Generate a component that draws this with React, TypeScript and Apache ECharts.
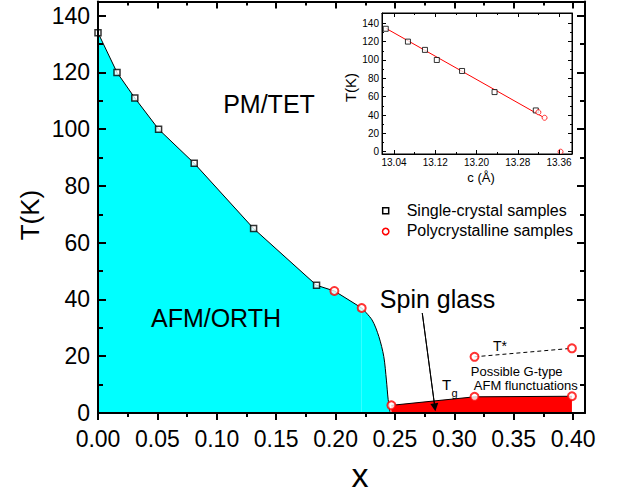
import React, { useEffect, useRef } from 'react';
import * as echarts from 'echarts';

const FONT = '"Liberation Sans", Arial, Helvetica, sans-serif';

// ---- main panel data ----
const singleX = [0, 0.016, 0.031, 0.051, 0.081, 0.131, 0.184];
const singleT = [134, 120, 111, 100, 88, 65, 45];
const polyX = [0.199, 0.222];
const polyT = [43, 37];
const edgeX = [0.222, 0.2307, 0.2364, 0.2406, 0.2428, 0.2443, 0.246];
const edgeT = [37, 32.8, 27, 19.9, 11.6, 4.7, 0];
const tgX = [0.247, 0.317, 0.399];
const tgT = [2.7, 5.7, 5.9];
const tsX = [0.317, 0.399];
const tsT = [19.8, 22.8];
const arrowX = [0.273, 0.2836];
const arrowT = [35.2, 2.0];

const mainXTicks = [0, 0.05, 0.1, 0.15, 0.2, 0.25, 0.3, 0.35, 0.4];
const mainXMinor = [0.025, 0.075, 0.125, 0.175, 0.225, 0.275, 0.325, 0.375];
const mainYTicks = [0, 20, 40, 60, 80, 100, 120, 140];
const mainYMinor = [10, 30, 50, 70, 90, 110, 130];

// ---- inset data ----
const insetSingleC = [13.024, 13.067, 13.1, 13.123, 13.172, 13.235, 13.315];
const insetSingleT = [134, 120, 111, 100, 88, 65, 45];
const insetPolyC = [13.32, 13.332, 13.363];
const insetPolyT = [43, 37, 0];
const fitC = [13.024, 13.33];
const fitT = [134.6, 37.5];
const insetXTicks = [13.04, 13.12, 13.2, 13.28, 13.36];
const insetXMinor = [13.08, 13.16, 13.24, 13.32];
const insetYTicks = [0, 20, 40, 60, 80, 100, 120, 140];
const insetYMinor = [10, 30, 50, 70, 90, 110, 130];

const zip = (a: number[], b: number[]) => a.map((v, i) => [v, b[i]]);

function tickAxis(o: any) {
  return {
    type: 'value',
    gridIndex: o.grid,
    position: o.position,
    min: o.min,
    max: o.max,
    z: 10,
    splitLine: { show: false },
    axisLine: {
      show: !!o.line,
      onZero: false,
      lineStyle: { color: '#000', width: o.lw },
    },
    axisTick: {
      show: true,
      inside: o.inside,
      length: o.len,
      customValues: o.ticks,
      lineStyle: { color: '#000', width: o.lw },
    },
    axisLabel: o.labels
      ? {
          show: true,
          customValues: o.ticks,
          formatter: o.fmt,
          fontSize: o.fs,
          color: '#000',
          fontFamily: FONT,
          margin: o.margin,
        }
      : { show: false },
  };
}

function txt(text: string, x: number, y: number, size: number, extra: any = {}) {
  return {
    type: 'text',
    x,
    y,
    z: 100,
    ...extra,
    style: {
      text,
      x: 0,
      y: 0,
      font: `${size}px ${FONT}`,
      fill: '#000',
      textAlign: extra.align || 'center',
      align: extra.align || 'center',
      textVerticalAlign: 'middle',
      verticalAlign: 'middle',
    },
  };
}

export default function App() {
  const ref = useRef<HTMLDivElement>(null);
  useEffect(() => {
    document.body.style.margin = '0';
    const chart = echarts.init(ref.current!, null, { renderer: 'svg' });
    const MX = { min: 0, max: 0.41 };
    const MY = { min: 0, max: 145 };
    const IX = { min: 13.0167, max: 13.3852 };
    const IY = { min: -2.5, max: 151.2 };
    const f2 = (v: number) => v.toFixed(2);
    const f0 = (v: number) => String(Math.round(v));
    const option: any = {
      animation: false,
      backgroundColor: '#fff',
      grid: [
        { left: 98, top: 1.5, width: 487, height: 411.5, show: false },
        {
          left: 382,
          top: 13,
          width: 190,
          height: 141,
          show: true,
          backgroundColor: '#fff',
          borderColor: '#000',
          borderWidth: 1,
          z: 5,
        },
      ],
      xAxis: [
        tickAxis({ grid: 0, position: 'bottom', ...MX, line: true, lw: 2, inside: false, len: 7, ticks: mainXTicks, labels: true, fmt: f2, fs: 23, margin: 14 }),
        tickAxis({ grid: 0, position: 'bottom', ...MX, line: false, lw: 2, inside: false, len: 4, ticks: mainXMinor }),
        tickAxis({ grid: 0, position: 'top', ...MX, line: true, lw: 2, inside: true, len: 7, ticks: mainXTicks }),
        tickAxis({ grid: 0, position: 'top', ...MX, line: false, lw: 2, inside: true, len: 4, ticks: mainXMinor }),
        tickAxis({ grid: 1, position: 'bottom', ...IX, line: true, lw: 1, inside: true, len: 4, ticks: insetXTicks, labels: true, fmt: f2, fs: 10, margin: 3 }),
        tickAxis({ grid: 1, position: 'bottom', ...IX, line: false, lw: 1, inside: true, len: 2, ticks: insetXMinor }),
        tickAxis({ grid: 1, position: 'top', ...IX, line: true, lw: 1, inside: true, len: 4, ticks: insetXTicks }),
        tickAxis({ grid: 1, position: 'top', ...IX, line: false, lw: 1, inside: true, len: 2, ticks: insetXMinor }),
      ],
      yAxis: [
        tickAxis({ grid: 0, position: 'left', ...MY, line: true, lw: 2, inside: true, len: 8, ticks: mainYTicks, labels: true, fmt: f0, fs: 23, margin: 8 }),
        tickAxis({ grid: 0, position: 'left', ...MY, line: false, lw: 2, inside: true, len: 5, ticks: mainYMinor }),
        tickAxis({ grid: 0, position: 'right', ...MY, line: true, lw: 2, inside: true, len: 8, ticks: mainYTicks }),
        tickAxis({ grid: 0, position: 'right', ...MY, line: false, lw: 2, inside: true, len: 5, ticks: mainYMinor }),
        tickAxis({ grid: 1, position: 'left', ...IY, line: true, lw: 1, inside: true, len: 4, ticks: insetYTicks, labels: true, fmt: f0, fs: 10, margin: 3 }),
        tickAxis({ grid: 1, position: 'left', ...IY, line: false, lw: 1, inside: true, len: 2, ticks: insetYMinor }),
        tickAxis({ grid: 1, position: 'right', ...IY, line: true, lw: 1, inside: true, len: 4, ticks: insetYTicks }),
        tickAxis({ grid: 1, position: 'right', ...IY, line: false, lw: 1, inside: true, len: 2, ticks: insetYMinor }),
      ],
      series: [
        {
          type: 'line',
          xAxisIndex: 0,
          yAxisIndex: 0,
          data: zip(singleX.concat(polyX), singleT.concat(polyT)),
          symbol: 'none',
          lineStyle: { color: '#000', width: 1 },
          areaStyle: { color: '#00ffff', opacity: 1 },
          z: 2,
        },
        {
          type: 'line',
          xAxisIndex: 0,
          yAxisIndex: 0,
          data: zip(edgeX, edgeT),
          smooth: 0.3,
          symbol: 'none',
          lineStyle: { color: '#000', width: 1 },
          areaStyle: { color: '#00ffff', opacity: 1 },
          z: 2,
        },
        {
          type: 'line',
          xAxisIndex: 0,
          yAxisIndex: 0,
          data: zip(tgX, tgT),
          symbol: 'none',
          lineStyle: { color: '#000', width: 1 },
          areaStyle: { color: '#ff0000', opacity: 1 },
          z: 2,
        },
        {
          type: 'line',
          xAxisIndex: 0,
          yAxisIndex: 0,
          data: zip(tsX, tsT),
          symbol: 'none',
          lineStyle: { color: '#000', width: 1, type: [4, 3] },
          z: 2,
        },
        {
          type: 'line',
          xAxisIndex: 0,
          yAxisIndex: 0,
          data: zip(arrowX, arrowT),
          symbol: 'none',
          lineStyle: { color: '#000', width: 1 },
          z: 3,
          markLine: {
            silent: true,
            symbol: ['none', 'triangle'],
            symbolSize: 8,
            label: { show: false },
            lineStyle: { color: '#000', width: 1, type: 'solid' },
            itemStyle: { color: '#000' },
            data: [[{ coord: [arrowX[0], arrowT[0]] }, { coord: [arrowX[1], arrowT[1]] }]],
          },
        },
        {
          type: 'scatter',
          name: 'Single-crystal samples',
          xAxisIndex: 0,
          yAxisIndex: 0,
          data: zip(singleX, singleT),
          symbol: 'rect',
          symbolSize: 6,
          itemStyle: { color: '#fff', borderColor: '#000', borderWidth: 1.5 },
          z: 4,
        },
        {
          type: 'scatter',
          name: 'Polycrystalline samples',
          xAxisIndex: 0,
          yAxisIndex: 0,
          data: zip(polyX, polyT).concat(zip(tgX, tgT), zip(tsX, tsT)),
          symbol: 'circle',
          symbolSize: 8,
          itemStyle: { color: '#fff', borderColor: '#ff0000', borderWidth: 2 },
          z: 4,
        },
        // inset
        {
          type: 'line',
          xAxisIndex: 4,
          yAxisIndex: 4,
          data: zip(fitC, fitT),
          symbol: 'none',
          lineStyle: { color: '#ff0000', width: 1 },
          z: 6,
        },
        {
          type: 'scatter',
          xAxisIndex: 4,
          yAxisIndex: 4,
          data: zip(insetSingleC, insetSingleT),
          symbol: 'rect',
          symbolSize: 5,
          itemStyle: { color: '#fff', borderColor: '#000', borderWidth: 1 },
          z: 7,
        },
        {
          type: 'scatter',
          xAxisIndex: 4,
          yAxisIndex: 4,
          data: zip(insetPolyC, insetPolyT),
          symbol: 'circle',
          symbolSize: 5,
          itemStyle: { color: '#fff', borderColor: '#ff0000', borderWidth: 1 },
          z: 7,
        },
      ],
      graphic: [
        txt('PM/TET', 269, 104, 25),
        txt('AFM/ORTH', 216, 318, 25),
        txt('Spin glass', 437.5, 299, 25),
        txt('T*', 500, 346, 14),
        txt('T', 446.7, 384.5, 15),
        txt('g', 454.5, 392.5, 11),
        txt('Possible G-type', 516.7, 371.5, 13),
        txt('AFM flunctuations', 525.8, 385, 13),
        txt('x', 360, 474.5, 34),
        txt('T(K)', 30, 215, 26, { rotation: Math.PI / 2 }),
        txt('T(K)', 350, 87.5, 15, { rotation: Math.PI / 2 }),
        txt('c (Å)', 481, 177, 13),
        {
          type: 'rect',
          z: 100,
          shape: { x: 382.7, y: 207.7, width: 6, height: 6 },
          style: { fill: '#fff', stroke: '#000', lineWidth: 1.5 },
        },
        txt('Single-crystal samples', 406.7, 210.5, 16, { align: 'left' }),
        {
          type: 'circle',
          z: 100,
          shape: { cx: 385.7, cy: 231.5, r: 3.2 },
          style: { fill: '#fff', stroke: '#ff0000', lineWidth: 1.5 },
        },
        txt('Polycrystalline samples', 406.7, 230.5, 16, { align: 'left' }),
      ],
    };
    chart.setOption(option);
    return () => chart.dispose();
  }, []);
  return <div ref={ref} style={{ width: 626, height: 495 }} />;
}
